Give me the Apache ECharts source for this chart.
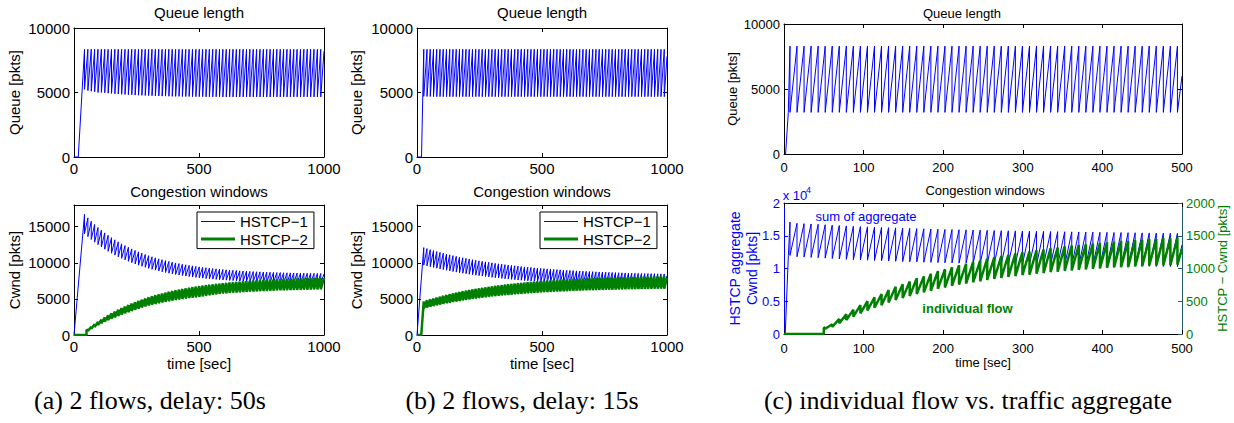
<!DOCTYPE html>
<html>
<head>
<meta charset="utf-8">
<script src="https://cdn.jsdelivr.net/npm/echarts@6/dist/echarts.min.js"></script>
<style>
html, body { margin: 0; background: #fff; }
#chart { width: 1234px; height: 423px; }
</style>
</head>
<body>
<div id="chart"></div>
<script>
// ---- (a) 2 flows, delay 50s : loss instants and sawtooth peaks / troughs ----
const lossA = [42,55.5,69,82.5,96,109.5,123,136.5,150,163.5,
  177,190.5,204,217.5,231,244.5,258,271.5,285,298.5,
  312,325.5,339,352.5,366,379.5,393,406.5,420,433.5,
  447,460.5,474,487.5,501,514.5,528,541.5,555,568.5,
  582,595.5,609,622.5,636,649.5,663,676.5,690,703.5,
  717,730.5,744,757.5,771,784.5,798,811.5,825,838.5,
  852,865.5,879,892.5,906,919.5,933,946.5,960,973.5,987]
const qPeakA = [8350,8350,8350,8350,8350,8350,8350,8350,8350,8350,
  8350,8350,8350,8350,8350,8350,8350,8350,8350,8350,
  8350,8350,8350,8350,8350,8350,8350,8350,8350,8350,
  8350,8350,8350,8350,8350,8350,8350,8350,8350,8350,
  8350,8350,8350,8350,8350,8350,8350,8350,8350,8350,
  8350,8350,8350,8350,8350,8350,8350,8350,8350,8350,
  8350,8350,8350,8350,8350,8350,8350,8350,8350,8350,8350]
const qLowA = [5250,5150,5100,5050,5000,5000,4980,4950,4930,4900,
  4880,4860,4850,4830,4820,4800,4790,4780,4770,4760,
  4750,4740,4730,4720,4720,4710,4700,4700,4700,4690,
  4690,4690,4680,4680,4680,4680,4670,4670,4670,4670,
  4670,4660,4660,4660,4660,4660,4660,4660,4660,4660,
  4660,4660,4660,4660,4660,4660,4660,4660,4660,4660,
  4660,4660,4660,4660,4660,4660,4660,4660,4660,4660,4660]
const c1PeakA = [16700,16210,15740,15310,14890,14510,14140,13800,13480,13180,
  12890,12630,12380,12140,11920,11710,11510,11330,11150,10990,
  10830,10690,10550,10420,10300,10190,10080,9980,9890,9800,
  9720,9640,9570,9500,9430,9370,9310,9260,9210,9160,
  9110,9070,9030,8990,8960,8930,8890,8860,8840,8810,
  8790,8760,8740,8720,8700,8680,8670,8650,8640,8620,
  8610,8600,8590,8580,8570,8560,8550,8540,8530,8520,8520]
const c1LowA = [14030,13620,13220,12860,12510,12190,11880,11590,11320,11070,
  10830,10610,10400,10200,10010,9840,9670,9520,9370,9230,
  9100,8980,8860,8750,8650,8560,8470,8380,8310,8230,
  8160,8100,8040,7980,7920,7870,7820,7780,7740,7690,
  7650,7620,7590,7550,7530,7500,7470,7440,7430,7400,
  7380,7360,7340,7320,7310,7290,7280,7270,7260,7240,
  7230,7220,7220,7210,7200,7190,7180,7170,7170,7160,7160]
// HSTCP-2 only starts at t=50, so its teeth line up with the last losses
const c2PeakA = [760,1130,1480,1820,2130,2440,2720,3000,3250,3500,
  3730,3950,4160,4360,4550,4730,4900,5060,5220,5360,
  5500,5630,5760,5880,5990,6100,6200,6290,6380,6470,
  6550,6630,6710,6780,6840,6910,6970,7020,7080,7130,
  7180,7230,7270,7310,7350,7390,7430,7460,7490,7520,
  7550,7580,7610,7630,7660,7680,7700,7720,7740,7760,
  7770,7790,7810,7820,7840,7850,7860,7870,7890,7900]
const c2LowA = [560,850,1110,1360,1600,1830,2040,2250,2440,2620,
  2820,2990,3150,3310,3470,3640,3800,3950,4070,4180,
  4290,4390,4490,4580,4670,4750,4830,4910,4980,5050,
  5110,5170,5200,5260,5340,5420,5500,5560,5620,5680,
  5740,5780,5820,5850,5880,5910,5940,5970,5990,6020,
  6040,6060,6080,6100,6120,6140,6160,6180,6190,6200,
  6220,6230,6240,6260,6270,6280,6290,6300,6310,6320]
const qStartA = [[0, 0], [17, 0]], qEndA = [1000, 8200]
const c1StartA = [[0, 0]], c1EndA = [1000, 8460]
const c2StartA = [[0, 0], [50, 0], [50, 650]], c2EndA = [1000, 7880]

// ---- (b) 2 flows, delay 15s ----
const lossB = [27,40,53,66,79,92,105,118,131,144,
  157,170,183,196,209,222,235,248,261,274,
  287,300,313,326,339,352,365,378,391,404,
  417,430,443,456,469,482,495,508,521,534,
  547,560,573,586,599,612,625,638,651,664,
  677,690,703,716,729,742,755,768,781,794,
  807,820,833,846,859,872,885,898,911,924,
  937,950,963,976,989]
const qPeakB = [8350,8350,8350,8350,8350,8350,8350,8350,8350,8350,
  8350,8350,8350,8350,8350,8350,8350,8350,8350,8350,
  8350,8350,8350,8350,8350,8350,8350,8350,8350,8350,
  8350,8350,8350,8350,8350,8350,8350,8350,8350,8350,
  8350,8350,8350,8350,8350,8350,8350,8350,8350,8350,
  8350,8350,8350,8350,8350,8350,8350,8350,8350,8350,
  8350,8350,8350,8350,8350,8350,8350,8350,8350,8350,
  8350,8350,8350,8350,8350]
const qLowB = [4700,4690,4690,4680,4680,4680,4680,4680,4680,4680,
  4680,4680,4680,4680,4680,4680,4680,4680,4680,4680,
  4680,4680,4680,4680,4680,4680,4680,4680,4680,4680,
  4680,4680,4680,4680,4680,4680,4680,4680,4680,4680,
  4680,4680,4680,4680,4680,4680,4680,4680,4680,4680,
  4680,4680,4680,4680,4680,4680,4680,4680,4680,4680,
  4680,4680,4680,4680,4680,4680,4680,4680,4680,4680,
  4680,4680,4680,4680,4680]
const c1PeakB = [12100,11960,11820,11690,11560,11440,11320,11210,11100,10990,
  10890,10790,10700,10610,10520,10430,10350,10270,10200,10130,
  10060,9990,9920,9860,9800,9740,9690,9630,9580,9530,
  9480,9430,9390,9350,9300,9260,9220,9190,9150,9120,
  9080,9050,9020,8990,8960,8930,8910,8880,8860,8830,
  8810,8790,8770,8750,8730,8710,8690,8670,8650,8640,
  8620,8610,8590,8580,8560,8550,8540,8520,8510,8500,
  8490,8480,8470,8460,8450]
const c1LowB = [9680,9570,9460,9350,9250,9150,9060,8970,8880,8790,
  8710,8630,8560,8490,8420,8340,8280,8220,8160,8100,
  8050,7990,7940,7890,7840,7790,7750,7700,7660,7620,
  7580,7540,7510,7480,7440,7410,7380,7350,7320,7300,
  7260,7240,7220,7190,7170,7140,7130,7100,7090,7060,
  7050,7030,7020,7000,6980,6970,6950,6940,6920,6910,
  6900,6890,6870,6860,6850,6840,6830,6820,6810,6800,
  6790,6780,6780,6770,6760]
const c2PeakB = [4650,4800,4940,5070,5200,5320,5440,5550,5660,5770,
  5870,5970,6060,6150,6230,6320,6400,6470,6540,6610,
  6680,6750,6810,6870,6920,6980,7030,7080,7130,7180,
  7220,7260,7310,7350,7380,7420,7460,7490,7520,7550,
  7580,7610,7640,7660,7690,7710,7740,7760,7780,7800,
  7820,7840,7860,7880,7890,7910,7930,7940,7950,7970,
  7980,7990,8010,8020,8030,8040,8050,8060,8070,8080,
  8090,8100,8100,8110,8120]
const c2LowB = [3670,3790,3900,4000,4110,4200,4300,4390,4470,4560,
  4640,4710,4790,4860,4920,4990,5050,5110,5170,5220,
  5280,5330,5380,5420,5470,5510,5550,5590,5630,5670,
  5700,5740,5770,5800,5830,5860,5890,5920,5940,5970,
  5990,6010,6030,6050,6070,6090,6110,6130,6150,6160,
  6180,6190,6210,6220,6240,6250,6260,6270,6280,6290,
  6300,6310,6320,6330,6340,6350,6360,6370,6380,6380,
  6390,6400,6400,6410,6410]
const qStartB = [[0, 0], [18, 0]], qEndB = [1000, 7800]
const c1StartB = [[0, 0]], c1EndB = [1000, 8200]
const c2StartB = [[0, 0], [17, 0]], c2EndB = [1000, 7860]

// ---- (c) individual flow vs. traffic aggregate ----
const lossC = [7.5,16.35,25.2,34.05,42.9,51.75,60.6,69.45,78.3,87.15,
  96,104.85,113.7,122.55,131.4,140.25,149.1,157.95,166.8,175.65,
  184.5,193.35,202.2,211.05,219.9,228.75,237.6,246.45,255.3,264.15,
  273,281.85,290.7,299.55,308.4,317.25,326.1,334.95,343.8,352.65,
  361.5,370.35,379.2,388.05,396.9,405.75,414.6,423.45,432.3,441.15,
  450,458.85,467.7,476.55,485.4,494.25]
const qPeakC = [8300,8300,8300,8300,8300,8300,8300,8300,8300,8300,
  8300,8300,8300,8300,8300,8300,8300,8300,8300,8300,
  8300,8300,8300,8300,8300,8300,8300,8300,8300,8300,
  8300,8300,8300,8300,8300,8300,8300,8300,8300,8300,
  8300,8300,8300,8300,8300,8300,8300,8300,8300,8300,
  8300,8300,8300,8300,8300,8300]
const qLowC = [3200,3200,3200,3200,3200,3200,3200,3200,3200,3200,
  3200,3200,3200,3200,3200,3200,3200,3200,3200,3200,
  3200,3200,3200,3200,3200,3200,3200,3200,3200,3200,
  3200,3200,3200,3200,3200,3200,3200,3200,3200,3200,
  3200,3200,3200,3200,3200,3200,3200,3200,3200,3200,
  3200,3200,3200,3200,3200,3200]
const aggPeakC = [17100,16900,16850,16800,16750,16680,16620,16560,16500,16450,
  16400,16360,16320,16280,16240,16200,16160,16130,16100,16060,
  16030,16000,15970,15950,15920,15900,15870,15850,15830,15800,
  15780,15760,15740,15720,15700,15680,15670,15650,15630,15610,
  15600,15580,15560,15550,15530,15520,15500,15490,15470,15460,
  15440,15430,15410,15400,15390,15370]
const aggLowC = [12000,11800,11750,11700,11650,11580,11520,11460,11400,11350,
  11300,11260,11220,11180,11140,11100,11060,11030,11000,10960,
  10930,10900,10870,10850,10820,10800,10770,10750,10730,10700,
  10680,10660,10640,10620,10600,10580,10570,10550,10530,10510,
  10500,10480,10460,10450,10430,10420,10400,10390,10370,10360,
  10340,10330,10310,10300,10290,10270]
const indPeakC = [100,150,230,300,370,440,500,560,610,670,
  720,760,800,850,880,920,960,990,1020,1050,
  1070,1100,1120,1150,1170,1190,1210,1230,1250,1260,
  1280,1290,1310,1320,1340,1350,1360,1370,1380,1390,
  1400,1410,1420,1420,1430,1440,1450,1450,1460,1460,1470]
const indLowC = [80,110,165,215,265,315,360,400,440,480,
  520,550,580,610,635,660,690,710,735,755,
  770,790,805,825,840,855,870,885,900,905,
  920,930,945,950,965,970,980,985,995,1000,
  1010,1015,1020,1020,1030,1035,1045,1045,1050,1050,1060]
const qStartC = [[0, 0], [2, 0], [5.4, 3200]], qEndC = [500, 6000]
const aggStartC = [[0, 0], [1.5, 0], [5.5, 12000]], aggEndC = [500, 13600]
const indStartC = [[0, 0], [50, 0], [50, 90]], indEndC = [500, 1300]

const BLUE = '#0000ff'
const GREEN = '#008000'
const FONT = '"Liberation Sans", Arial, sans-serif'

// build a sawtooth: slow rise up to each loss instant, then a vertical drop
function saw(start, times, peaks, lows, end) {
    const d = start.slice()
    const off = times.length - peaks.length
    peaks.forEach((p, i) => {
        d.push([times[off + i], p], [times[off + i], lows[i]])
    })
    d.push(end)
    return d
}

const plain = v => String(v)

const grids = [
    { left: 74, top: 28, width: 250, height: 129 },
    { left: 74, top: 205, width: 250, height: 130 },
    { left: 417, top: 28, width: 250, height: 129 },
    { left: 417, top: 205, width: 250, height: 130 },
    { left: 784, top: 24, width: 398, height: 130 },
    { left: 784, top: 203, width: 398, height: 131 },
]

function tickStyle(color) {
    return {
        axisLine: { onZero: false, lineStyle: { color: color || '#000', width: 1 } },
        axisTick: { inside: true, length: 4, lineStyle: { color: color || '#000' } },
        splitLine: { show: false },
    }
}

function nameStyle(color, size, extra) {
    return Object.assign({ color, fontSize: size, fontFamily: FONT, fontWeight: 'normal',
        textBorderWidth: 0, textShadowBlur: 0 }, extra || {})
}

function xAxes(g, max, interval, fs, margin, name, nameGap) {
    return [
        {
            gridIndex: g, type: 'value', position: 'bottom', min: 0, max, interval, ...tickStyle(),
            axisLabel: { color: '#000', fontSize: fs, fontFamily: FONT, margin, formatter: plain },
            name: name || '', nameLocation: 'middle', nameGap: nameGap || 0, nameMoveOverlap: false,
            nameTextStyle: nameStyle('#000', fs),
        },
        { gridIndex: g, type: 'value', position: 'top', min: 0, max, interval, ...tickStyle(), axisLabel: { show: false } },
    ]
}

function yAxes(g, max, interval, fs, name, nameGap) {
    return [
        {
            gridIndex: g, type: 'value', position: 'left', min: 0, max, interval, ...tickStyle(),
            axisLabel: { color: '#000', fontSize: fs, fontFamily: FONT, margin: 4, formatter: plain,
                showMaxLabel: max % interval === 0 },
            name, nameLocation: 'middle', nameGap, nameMoveOverlap: false,
            nameTextStyle: nameStyle('#000', fs),
        },
        { gridIndex: g, type: 'value', position: 'right', min: 0, max, interval, ...tickStyle(), axisLabel: { show: false } },
    ]
}

const xAxis = [
    ...xAxes(0, 1000, 500, 15, 4),
    ...xAxes(1, 1000, 500, 15, 4, 'time [sec]', 20.5),
    ...xAxes(2, 1000, 500, 15, 4),
    ...xAxes(3, 1000, 500, 15, 4, 'time [sec]', 20.5),
    ...xAxes(4, 500, 100, 13, 7),
    ...xAxes(5, 500, 100, 13, 8, 'time [sec]', 22),
]

const yAxis = [
    ...yAxes(0, 10000, 5000, 15, 'Queue [pkts]', 52),
    ...yAxes(1, 18000, 5000, 15, 'Cwnd [pkts]', 52),
    ...yAxes(2, 10000, 5000, 15, 'Queue [pkts]', 53),
    ...yAxes(3, 18000, 5000, 15, 'Cwnd [pkts]', 53),
    ...yAxes(4, 10000, 5000, 13, 'Queue [pkts]', 45),
    {
        gridIndex: 5, type: 'value', position: 'left', min: 0, max: 20000, interval: 5000, ...tickStyle(BLUE),
        axisLabel: { color: BLUE, fontSize: 13, fontFamily: FONT, margin: 4, formatter: v => String(v / 10000) },
        name: 'HSTCP aggregate\nCwnd [pkts]', nameLocation: 'middle', nameGap: 24, nameMoveOverlap: false,
        nameTextStyle: nameStyle(BLUE, 14, { lineHeight: 16.5 }),
    },
    {
        gridIndex: 5, type: 'value', position: 'right', min: 0, max: 2000, interval: 500, ...tickStyle('#1f5a6e'),
        axisLabel: { color: GREEN, fontSize: 13, fontFamily: FONT, margin: 4, formatter: plain },
        name: 'HSTCP \u2212 Cwnd [pkts]', nameLocation: 'middle', nameGap: 34, nameMoveOverlap: false,
        nameTextStyle: nameStyle(GREEN, 13),
    },
]

function line(name, xi, yi, data, color, width) {
    return {
        name, type: 'line', xAxisIndex: xi, yAxisIndex: yi, data,
        symbol: 'none', silent: true, animation: false,
        lineStyle: { color, width }, itemStyle: { color },
    }
}

const series = [
    line('', 0, 0, saw(qStartA, lossA, qPeakA, qLowA, qEndA), BLUE, 1),
    line('HSTCP\u22121', 2, 2, saw(c1StartA, lossA, c1PeakA, c1LowA, c1EndA), BLUE, 1),
    line('HSTCP\u22122', 2, 2, saw(c2StartA, lossA, c2PeakA, c2LowA, c2EndA), GREEN, 2.5),
    line('', 4, 4, saw(qStartB, lossB, qPeakB, qLowB, qEndB), BLUE, 1),
    line('HSTCP\u22121', 6, 6, saw(c1StartB, lossB, c1PeakB, c1LowB, c1EndB), BLUE, 1),
    line('HSTCP\u22122', 6, 6, saw(c2StartB, lossB, c2PeakB, c2LowB, c2EndB), GREEN, 2.5),
    line('', 8, 8, saw(qStartC, lossC, qPeakC, qLowC, qEndC), BLUE, 1),
    line('', 10, 10, saw(aggStartC, lossC, aggPeakC, aggLowC, aggEndC), BLUE, 1),
    line('', 10, 11, saw(indStartC, lossC, indPeakC, indLowC, indEndC), GREEN, 2.5),
]

// line-only legend icons (thin for flow 1, thick for flow 2)
const legendData = [
    { name: 'HSTCP\u22121', icon: 'path://M0,0L0,14M0,6.5h34v1h-34z' },
    { name: 'HSTCP\u22122', icon: 'path://M0,0L0,14M0,5.5h34v3h-34z' },
]
function legendAt(left) {
    return {
        data: legendData, orient: 'vertical', left, top: 212,
        itemWidth: 34, itemHeight: 14, itemGap: 2.6, padding: [2, 6, 2, 4],
        borderColor: '#000', borderWidth: 1, backgroundColor: '#fff', selectedMode: false,
        textStyle: { color: '#000', fontSize: 15, fontFamily: FONT },
    }
}

function label(text, x, y, size, opts) {
    const o = opts || {}
    return {
        type: 'text', x, y, silent: true,
        style: {
            text, fill: o.color || '#000',
            font: (o.bold ? 'bold ' : '') + size + 'px ' + (o.family || FONT),
            align: 'center', verticalAlign: 'middle',
        },
    }
}

const SERIF = '"Liberation Serif", "Times New Roman", serif'
const graphic = [
    label('Queue length', 199, 12.5, 15),
    label('Queue length', 542, 12.5, 15),
    label('Queue length', 962, 13.5, 13),
    label('Congestion windows', 199, 191, 15),
    label('Congestion windows', 542, 191, 15),
    label('Congestion windows', 985, 190, 13),
    label('sum of aggregate', 866, 216.5, 13, { color: BLUE }),
    label('individual flow', 967.5, 308, 13, { color: GREEN, bold: true }),
    label('x 10', 795, 195.5, 13, { color: BLUE }),
    label('4', 808.5, 190, 9, { color: BLUE }),
    label('(a) 2 flows, delay: 50s', 150, 400, 26, { family: SERIF }),
    label('(b) 2 flows, delay: 15s', 522, 400, 26, { family: SERIF }),
    label('(c) individual flow vs. traffic aggregate', 968, 400, 26, { family: SERIF }),
]

const chart = echarts.init(document.getElementById('chart'), null, { renderer: 'svg' })
chart.setOption({
    animation: false,
    backgroundColor: '#fff',
    grid: grids,
    xAxis,
    yAxis,
    legend: [legendAt(197), legendAt(540)],
    graphic,
    series,
})
</script>
</body>
</html>
